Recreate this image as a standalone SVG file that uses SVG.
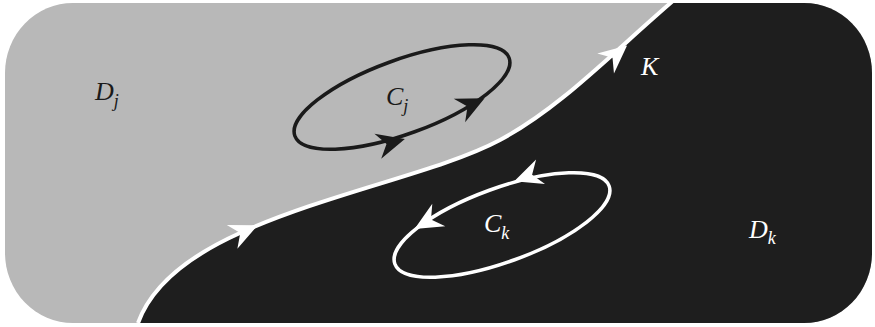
<svg xmlns="http://www.w3.org/2000/svg" width="875" height="327" viewBox="0 0 875 327">
<style>
.lab{font-family:"Liberation Serif","Times New Roman",serif;font-style:italic;font-size:26px}
.sub{font-size:18px}
.dk{fill:#1a1a1a}
.wt{fill:#ffffff}
</style>
<defs>
<clipPath id="frame"><rect x="5" y="3" width="867" height="320" rx="68" ry="70"/></clipPath>
<path id="ah" d="M4,0 L-24,-13 L-15,0 L-24,13 Z"/>
</defs>
<rect width="875" height="327" fill="#ffffff"/>
<g id="regions" clip-path="url(#frame)">
<rect id="Dj-region" x="0" y="0" width="875" height="327" fill="#b8b8b8"/>
<path id="Dk-region" d="M136,330 L138,323 C150,290 180,260 240,233 C330,192.5 440,172 500,140 C560,108 610,55 674,0 L875,0 L875,330 Z" fill="#1e1e1e"/>
</g>
<g id="connectors">
<path id="K" d="M138,323 C150,290 180,260 240,233 C330,192.5 440,172 500,140 C560,108 610,55 674,0" fill="none" stroke="#ffffff" stroke-width="4"/>
<use href="#ah" fill="#ffffff" transform="translate(254,227) rotate(-24)"/>
<use href="#ah" fill="#ffffff" transform="translate(624,48) rotate(-40)"/>
</g>
<g id="Cj">
<ellipse cx="402" cy="97" rx="114" ry="37" transform="rotate(-20 402 97)" fill="none" stroke="#1a1a1a" stroke-width="3.5"/>
<use href="#ah" fill="#1a1a1a" transform="translate(401,140) rotate(-15)"/>
<use href="#ah" fill="#1a1a1a" transform="translate(481,100) rotate(-26)"/>
<text class="lab dk" x="386" y="105">C<tspan class="sub" dy="7">j</tspan></text>
</g>
<g id="Ck">
<ellipse cx="502" cy="225" rx="114" ry="37" transform="rotate(-20 502 225)" fill="none" stroke="#ffffff" stroke-width="3.5"/>
<use href="#ah" fill="#ffffff" transform="translate(518,180) rotate(160)"/>
<use href="#ah" fill="#ffffff" transform="translate(418,227) rotate(150)"/>
<text class="lab wt" x="484" y="232">C<tspan class="sub" dy="7">k</tspan></text>
</g>
<g id="Dj">
<text class="lab dk" x="95" y="100">D<tspan class="sub" dy="7">j</tspan></text>
</g>
<g id="Dk">
<text class="lab wt" x="749" y="238">D<tspan class="sub" dy="6">k</tspan></text>
</g>
<g id="K-label">
<text class="lab wt" x="641" y="75">K</text>
</g>
</svg>
